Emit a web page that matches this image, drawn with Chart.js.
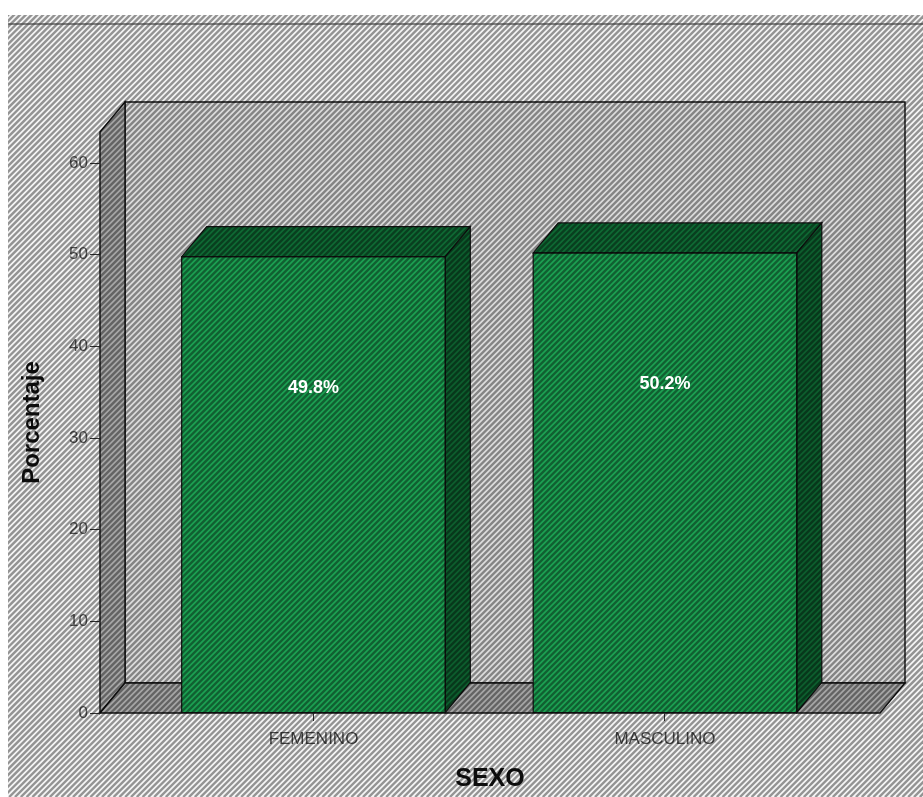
<!DOCTYPE html>
<html>
<head>
<meta charset="utf-8">
<title>SEXO</title>
<style>
  html, body { margin: 0; padding: 0; background: #ffffff; }
  #wrap { width: 923px; height: 797px; position: relative; }
</style>
<script src="https://cdn.jsdelivr.net/npm/chart.js@4.4.1/dist/chart.umd.min.js"></script>
</head>
<body>
<div id="wrap"><canvas id="chart" width="923" height="797"></canvas></div>
<script>
// Categories and their percentages
const categories = ['FEMENINO', 'MASCULINO'];
const percentages = [49.8, 50.2];
const valueLabels = ['49.8%', '50.2%'];
const yTicks = [0, 10, 20, 30, 40, 50, 60];
const yTop = 63.4;                 // top of the walls, in axis units
const xRange = [-0.6074, 1.6117];  // category index range across the front plane

// Depth offset used for the pseudo-3D box and bars
const DEPTH = { dx: 25, dy: -30 };

const COLORS = {
  outer: '#f5f5f5',
  backWall: '#dcdcdc',
  sideWall: '#a6a6a6',
  barFront: '#1ca052',
  barTop: '#0f6a34',
  barSide: '#0d5e2e',
  edge: '#111111',
  hatch: 'rgba(0,0,0,0.40)'
};

Chart.defaults.font.family = "'Liberation Sans', Arial, sans-serif";

function poly(ctx, pts, fill, stroke, lw) {
  ctx.beginPath();
  ctx.moveTo(pts[0][0], pts[0][1]);
  for (let i = 1; i < pts.length; i++) ctx.lineTo(pts[i][0], pts[i][1]);
  ctx.closePath();
  if (fill) { ctx.fillStyle = fill; ctx.fill(); }
  if (stroke) { ctx.strokeStyle = stroke; ctx.lineWidth = lw || 1; ctx.stroke(); }
}

const box3d = {
  id: 'box3d',
  beforeDraw(chart) {
    const ctx = chart.ctx;
    const { dx, dy } = DEPTH;
    const area = chart.chartArea;
    const ys = chart.scales.y;
    const L = area.left, R = area.right;
    const B = ys.getPixelForValue(0);
    const T = ys.getPixelForValue(yTop);
    ctx.save();
    ctx.fillStyle = '#ffffff';
    ctx.fillRect(0, 0, chart.width, chart.height);
    ctx.fillStyle = COLORS.outer;
    ctx.fillRect(8, 15, chart.width - 8, chart.height - 15);

    // back wall
    poly(ctx, [[L + dx, T + dy], [R + dx, T + dy], [R + dx, B + dy], [L + dx, B + dy]], COLORS.backWall, COLORS.edge, 1.4);
    // left wall
    poly(ctx, [[L, T], [L + dx, T + dy], [L + dx, B + dy], [L, B]], COLORS.sideWall, COLORS.edge, 1.4);
    // floor
    poly(ctx, [[L, B], [L + dx, B + dy], [R + dx, B + dy], [R, B]], COLORS.sideWall, COLORS.edge, 1.4);
    ctx.restore();
  },
  afterDatasetsDraw(chart) {
    const ctx = chart.ctx;
    const { dx, dy } = DEPTH;
    const meta = chart.getDatasetMeta(0);
    ctx.save();
    meta.data.forEach(bar => {
      const p = bar.getProps(['x', 'y', 'base', 'width'], true);
      const left = p.x - p.width / 2, right = p.x + p.width / 2;
      poly(ctx, [[left, p.y], [left + dx, p.y + dy], [right + dx, p.y + dy], [right, p.y]], COLORS.barTop, COLORS.edge, 1.2);
      poly(ctx, [[right, p.y], [right + dx, p.y + dy], [right + dx, p.base + dy], [right, p.base]], COLORS.barSide, COLORS.edge, 1.2);
      ctx.beginPath();
      ctx.rect(left, p.y, p.width, p.base - p.y);
      ctx.strokeStyle = COLORS.edge;
      ctx.lineWidth = 1.2;
      ctx.stroke();
    });
    ctx.restore();
  },
  afterDraw(chart) {
    const ctx = chart.ctx;
    const W = chart.width, H = chart.height;
    ctx.save();
    // diagonal hatching over the whole panel
    ctx.beginPath();
    ctx.rect(8, 15, W - 8, H - 15);
    ctx.clip();
    ctx.strokeStyle = COLORS.hatch;
    ctx.lineWidth = 2.4;
    for (let k = -H; k < W + H; k += 5.8) {
      ctx.beginPath();
      ctx.moveTo(k, H);
      ctx.lineTo(k + H, 0);
      ctx.stroke();
    }
    // panel top rule
    ctx.strokeStyle = 'rgba(60,60,60,0.6)';
    ctx.lineWidth = 2;
    ctx.beginPath();
    ctx.moveTo(8, 24);
    ctx.lineTo(W, 24);
    ctx.stroke();
    ctx.restore();

    // percentage labels inside the bars
    const meta = chart.getDatasetMeta(0);
    ctx.save();
    ctx.fillStyle = '#ffffff';
    ctx.font = "bold 18px 'Liberation Sans', Arial, sans-serif";
    ctx.textAlign = 'center';
    ctx.textBaseline = 'middle';
    meta.data.forEach((bar, i) => {
      ctx.fillText(valueLabels[i], bar.x, bar.y + 131);
    });
    ctx.restore();
  }
};

new Chart(document.getElementById('chart'), {
  type: 'bar',
  data: {
    datasets: [{
      data: categories.map((c, i) => ({ x: i, y: percentages[i] })),
      backgroundColor: COLORS.barFront,
      borderWidth: 0,
      barPercentage: 0.75,
      categoryPercentage: 1
    }]
  },
  options: {
    responsive: false,
    animation: false,
    devicePixelRatio: 1,
    layout: { padding: { left: 0, top: 132, right: 43, bottom: 0 } },
    plugins: { legend: { display: false }, tooltip: { enabled: false } },
    scales: {
      x: {
        type: 'linear',
        offset: false,
        min: xRange[0],
        max: xRange[1],
        afterBuildTicks: s => { s.ticks = categories.map((c, i) => ({ value: i })); },
        afterFit: s => { s.height = 84; },
        ticks: {
          callback: v => categories[v],
          color: '#4a4a4a',
          font: { size: 17 },
          padding: 8,
          autoSkip: false,
          maxRotation: 0
        },
        grid: { offset: false, drawOnChartArea: false, drawTicks: true, tickLength: 8, color: '#333333' },
        border: { display: false },
        title: {
          display: true,
          text: 'SEXO',
          color: '#111111',
          font: { size: 25, weight: 'bold' },
          padding: { top: 0, bottom: 3 }
        }
      },
      y: {
        min: 0,
        max: yTop,
        afterBuildTicks: s => { s.ticks = yTicks.map(v => ({ value: v })); },
        afterFit: s => { s.width = 100; },
        ticks: { color: '#555555', font: { size: 17 }, padding: 2 },
        grid: { drawOnChartArea: false, drawTicks: true, tickLength: 10, color: '#333333' },
        border: { display: false },
        title: {
          display: true,
          text: 'Porcentaje',
          color: '#111111',
          font: { size: 24, weight: 'bold' },
          padding: { top: 18, bottom: 0 }
        }
      }
    }
  },
  plugins: [box3d]
});
</script>
</body>
</html>
